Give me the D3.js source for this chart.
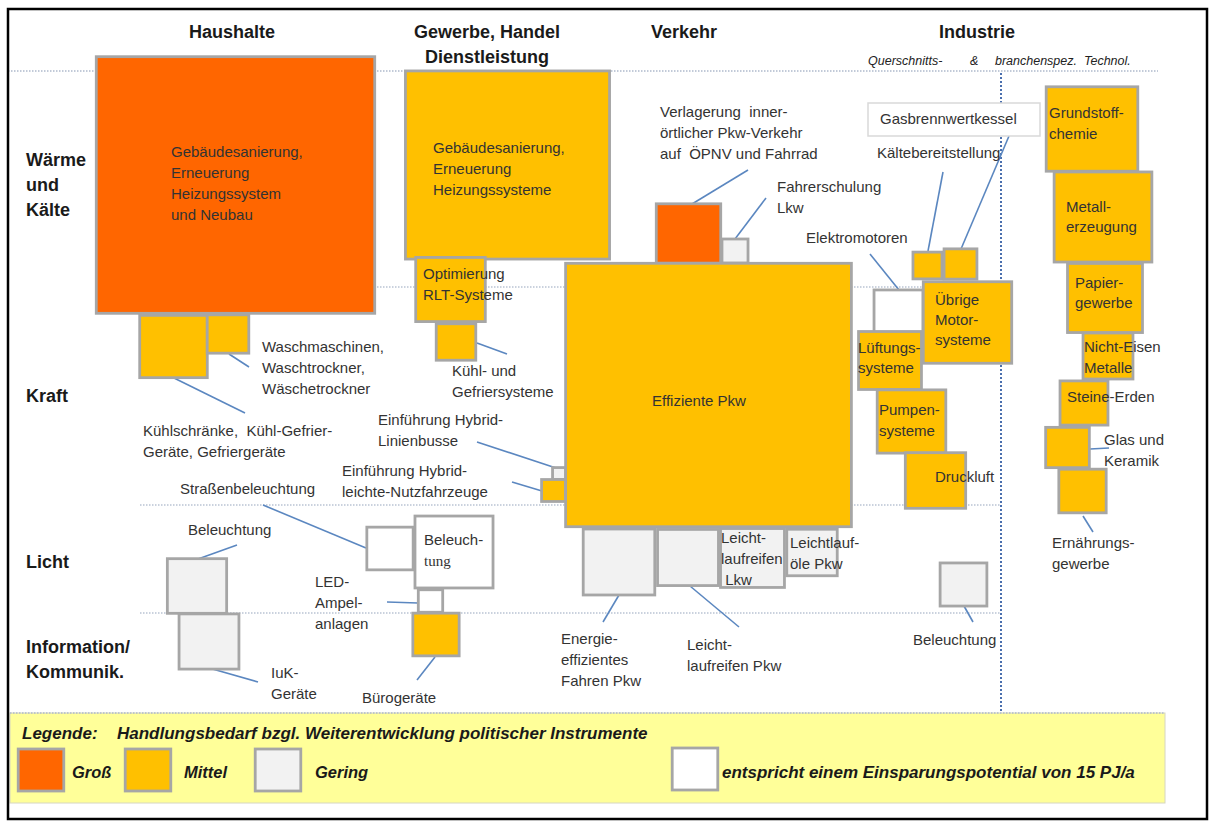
<!DOCTYPE html>
<html>
<head>
<meta charset="utf-8">
<script src="https://cdn.jsdelivr.net/npm/d3@7"></script>
<style>
  body { margin: 0; background: #fff; }
  svg { display: block; font-family: "Liberation Sans", Arial, sans-serif; }
</style>
</head>
<body>
<div id="chart"></div>
<script>
// Sectors (column heads) and uses (row heads)
const sectors = [
    { lines: ["Haushalte"], at: [232, 38] },
    { lines: ["Gewerbe, Handel", "Dienstleistung"], at: [487, 38] },
    { lines: ["Verkehr"], at: [684, 38] },
    { lines: ["Industrie"], at: [977, 38] }
];
const uses = [
    { lines: ["Wärme", "und", "Kälte"], at: [26, 166] },
    { lines: ["Kraft"], at: [26, 402] },
    { lines: ["Licht"], at: [26, 568] },
    { lines: ["Information/", "Kommunik."], at: [26, 653] }
];
const rowBreaks = [287, 505, 613];

// Need for action (Handlungsbedarf) categories
const levels = ["Groß", "Mittel", "Gering", "ohne"];
const levelColors = ["#FF6600", "#FFC000", "#F2F2F2", "#FFFFFF"];

// Reference square of the legend (PJ/a)
const refPJ = 15;

// Measures: saving potential in PJ/a, read from square areas
const measures = [
    { lines: ["Gebäudesanierung,", "Erneuerung", "Heizungssystem", "und Neubau"], level: "Groß", pj: 560, at: [235.5, 185], text: [171, 157] },
    { lines: ["Gebäudesanierung,", "Erneuerung", "Heizungssysteme"], level: "Mittel", pj: 301, at: [507.5, 165], text: [433, 153] },
    { lines: ["Optimierung", "RLT-Systeme"], level: "Mittel", pj: 35, at: [450.5, 289.5], text: [423, 279] },
    { lines: ["Kühl- und", "Gefriersysteme"], level: "Mittel", pj: 11.3, at: [456, 342], text: [452, 376], leader: [477, 343, 507, 354] },
    { lines: ["Verlagerung  inner-", "örtlicher Pkw-Verkehr", "auf  ÖPNV und Fahrrad"], level: "Groß", pj: 30, at: [688.5, 233.5], text: [660, 117], leader: [692, 204, 748, 170] },
    { lines: ["Fahrerschulung", "Lkw"], level: "Gering", pj: 4.9, at: [735, 251], text: [777, 192], leader: [735, 239, 766, 198] },
    { lines: ["Effiziente Pkw"], level: "Mittel", pj: 590, at: [708.5, 395], text: [652, 406] },
    { lines: ["Einführung Hybrid-", "Linienbusse"], level: "Gering", pj: 1.2, at: [559, 473.5], text: [378, 425], leader: [477, 442, 556, 468] },
    { lines: ["Einführung Hybrid-", "leichte-Nutzfahrzeuge"], level: "Mittel", pj: 4.1, at: [553.5, 490.5], text: [342, 476], leader: [512, 482, 542, 491] },
    { lines: ["Kühlschränke,  Kühl-Gefrier-", "Geräte, Gefriergeräte"], level: "Mittel", pj: 33, at: [173.5, 346.5], text: [143, 436], leader: [174, 378, 245, 413] },
    { lines: ["Waschmaschinen,", "Waschtrockner,", "Wäschetrockner"], level: "Mittel", pj: 12.5, at: [228, 334], text: [262, 352], leader: [229, 354, 249, 367] },
    { lines: ["Beleuchtung"], level: "Gering", pj: 25.4, at: [197, 586], text: [188, 535], leader: [198, 559, 237, 545] },
    { lines: ["IuK-", "Geräte"], level: "Gering", pj: 25.9, at: [209, 641.5], text: [271, 678], leader: [209, 668, 258, 682] },
    { lines: ["Straßenbeleuchtung"], level: "ohne", pj: 15.5, at: [390, 548.5], text: [180, 494], leader: [263, 505, 366, 548] },
    { lines: ["Beleuch-", "tung"], level: "ohne", pj: 44, at: [454, 552], text: [424, 545], serifLast: true },
    { lines: ["LED-", "Ampel-", "anlagen"], level: "ohne", pj: 4.3, at: [430.5, 601], text: [315, 587], leader: [387, 602, 418, 603] },
    { lines: ["Bürogeräte"], level: "Mittel", pj: 15.5, at: [436, 634.5], text: [362, 703], leader: [435, 657, 417, 680] },
    { lines: ["Energie-", "effizientes", "Fahren Pkw"], level: "Gering", pj: 37, at: [619, 562], text: [561, 644], leader: [619, 595, 603, 622] },
    { lines: ["Leicht-", "laufreifen Pkw"], level: "Gering", pj: 26.8, at: [688, 557.5], text: [687, 650], leader: [690, 586, 739, 627] },
    { lines: ["Leicht-", "laufreifen", " Lkw"], level: "Gering", pj: 29.5, at: [752.5, 558], text: [721, 543] },
    { lines: ["Leichtlauf-", "öle Pkw"], level: "Gering", pj: 18.4, at: [812, 552.5], text: [790, 548] },
    { lines: ["Beleuchtung"], level: "Gering", pj: 15.8, at: [963.5, 584.5], text: [913, 645], leader: [964, 606, 973, 622] },
    { lines: ["Kältebereitstellung"], level: "Mittel", pj: 6.1, at: [927.5, 265.5], text: [877, 158], leader: [943, 172, 928, 251] },
    { lines: ["Gasbrennwertkessel"], level: "Mittel", pj: 7.8, at: [960.5, 264], text: [880, 124], leader: [1009, 136, 961, 249], boxed: [868, 103, 1040, 136] },
    { lines: ["Elektromotoren"], level: "ohne", pj: 17.3, at: [898.5, 312.5], text: [806, 243], leader: [870, 254, 899, 290] },
    { lines: ["Übrige", "Motor-", "systeme"], level: "Mittel", pj: 56.5, at: [967.5, 322.5], text: [935, 305], gap: 20 },
    { lines: ["Lüftungs-", "systeme"], level: "Mittel", pj: 28.6, at: [890, 360.5], text: [858, 353], gap: 20 },
    { lines: ["Pumpen-", "systeme"], level: "Mittel", pj: 34, at: [911.5, 421.5], text: [879, 415] },
    { lines: ["Druckluft"], level: "Mittel", pj: 26.3, at: [935.5, 480.5], text: [935, 482] },
    { lines: ["Grundstoff-", "chemie"], level: "Mittel", pj: 60.6, at: [1092, 129], text: [1049, 118] },
    { lines: ["Metall-", "erzeugung"], level: "Mittel", pj: 69, at: [1103, 217], text: [1066, 212], gap: 20 },
    { lines: ["Papier-", "gewerbe"], level: "Mittel", pj: 40.6, at: [1105, 298], text: [1075, 288], gap: 20 },
    { lines: ["Nicht-Eisen", "Metalle"], level: "Mittel", pj: 18, at: [1108, 356], text: [1084, 352] },
    { lines: ["Steine-Erden"], level: "Mittel", pj: 16.6, at: [1084, 403], text: [1067, 402] },
    { lines: ["Glas und", "Keramik"], level: "Mittel", pj: 13.8, at: [1067.5, 447.5], text: [1104, 445], leader: [1090, 449, 1109, 448] },
    { lines: ["Ernährungs-", "gewerbe"], level: "Mittel", pj: 16.2, at: [1082.5, 491], text: [1052, 548], leader: [1083, 516, 1093, 532] }
];

// Legend texts
const legendTitle = ["Legende:", "Handlungsbedarf bzgl. Weiterentwicklung politischer Instrumente"];
const legendRef = "entspricht einem Einsparungspotential von 15 PJ/a";

const width = 1215, height = 821;

// layout units -> pixels
const x = d3.scaleLinear().domain([0, 1215]).range([0, width]);
const y = d3.scaleLinear().domain([0, 821]).range([0, height]);
// square size from potential (area proportional), image is stretched slightly in x
const side = d3.scaleSqrt().domain([0, refPJ]).range([0, 42]);
const stretch = 1.085;
const color = d3.scaleOrdinal().domain(levels).range(levelColors);

const svg = d3.select("#chart").append("svg")
    .attr("width", width)
    .attr("height", height);

const plotRight = 1000, topRight = 1158, plotLeft = 140, legendRight = 1165;

// Grid lines
svg.append("line")
    .attr("x1", x(8)).attr("x2", x(topRight))
    .attr("y1", y(71)).attr("y2", y(71))
    .attr("stroke", "#AEB9CC").attr("stroke-width", 1.6).attr("stroke-dasharray", "1.5,1.5");

svg.selectAll("line.row")
    .data(rowBreaks)
    .enter().append("line")
    .attr("class", "row")
    .attr("x1", x(plotLeft)).attr("x2", x(plotRight))
    .attr("y1", d => y(d)).attr("y2", d => y(d))
    .attr("stroke", "#B9C3D3").attr("stroke-width", 1.5).attr("stroke-dasharray", "1.5,1.5");

svg.append("line")
    .attr("x1", x(1001)).attr("x2", x(1001))
    .attr("y1", y(73)).attr("y2", y(713))
    .attr("stroke", "#4A6FAE").attr("stroke-width", 2).attr("stroke-dasharray", "2,2");

// Legend background
svg.append("rect")
    .attr("x", x(10)).attr("y", y(713))
    .attr("width", x(legendRight) - x(10)).attr("height", y(803) - y(713))
    .attr("fill", "#FFFF99").attr("stroke", "#D6D6C0").attr("stroke-width", 1);

svg.append("line")
    .attr("x1", x(10)).attr("x2", x(legendRight))
    .attr("y1", y(713)).attr("y2", y(713))
    .attr("stroke", "#AEB9CC").attr("stroke-width", 1.5).attr("stroke-dasharray", "1.5,1.5");

// Headers
const multiText = (sel, lines, gap) => {
    lines.forEach((t, i) => sel.append("tspan").attr("x", sel.attr("x")).attr("dy", i === 0 ? 0 : gap).text(t));
};

sectors.forEach(s => {
    const t = svg.append("text")
        .attr("x", x(s.at[0])).attr("y", y(s.at[1]))
        .attr("text-anchor", "middle")
        .attr("font-size", 18).attr("font-weight", "bold").attr("fill", "#1a1a1a");
    multiText(t, s.lines, 25);
});

const sub = svg.append("g").attr("font-size", 12.5).attr("font-style", "italic").attr("fill", "#222");
sub.append("text").attr("x", x(868)).attr("y", y(65)).text("Querschnitts-");
sub.append("text").attr("x", x(970)).attr("y", y(65)).text("&");
sub.append("text").attr("x", x(995)).attr("y", y(65)).attr("xml:space", "preserve").text("branchenspez.  Technol.");

uses.forEach(u => {
    const t = svg.append("text")
        .attr("x", x(u.at[0])).attr("y", y(u.at[1]))
        .attr("font-size", 18).attr("font-weight", "bold").attr("fill", "#1a1a1a");
    multiText(t, u.lines, 25);
});

// Leader lines
svg.append("g").selectAll("line")
    .data(measures.filter(d => d.leader))
    .enter().append("line")
    .attr("x1", d => x(d.leader[0])).attr("y1", d => y(d.leader[1]))
    .attr("x2", d => x(d.leader[2])).attr("y2", d => y(d.leader[3]))
    .attr("stroke", "#5B87C0").attr("stroke-width", 1.6);

// Boxed label
svg.append("g").selectAll("rect")
    .data(measures.filter(d => d.boxed))
    .enter().append("rect")
    .attr("x", d => x(d.boxed[0])).attr("y", d => y(d.boxed[1]))
    .attr("width", d => x(d.boxed[2]) - x(d.boxed[0])).attr("height", d => y(d.boxed[3]) - y(d.boxed[1]))
    .attr("fill", "#fff").attr("stroke", "#D9D9D9").attr("stroke-width", 1.5);

// Squares
svg.append("g").selectAll("rect")
    .data(measures)
    .enter().append("rect")
    .attr("x", d => x(d.at[0]) - side(d.pj) * stretch / 2)
    .attr("y", d => y(d.at[1]) - side(d.pj) / 2)
    .attr("width", d => side(d.pj) * stretch)
    .attr("height", d => side(d.pj))
    .attr("fill", d => color(d.level))
    .attr("stroke", "#A6A6A6")
    .attr("stroke-width", 2.8);

// Labels
measures.forEach(d => {
    const t = svg.append("text")
        .attr("x", x(d.text[0])).attr("y", y(d.text[1]))
        .attr("font-size", 15).attr("fill", "#333")
        .attr("xml:space", "preserve");
    d.lines.forEach((line, i) => {
        const ts = t.append("tspan").attr("x", x(d.text[0])).attr("dy", i === 0 ? 0 : (d.gap || 21)).text(line);
        if (d.serifLast && i === d.lines.length - 1) ts.attr("font-family", "Liberation Serif, serif");
    });
});

// Legend
const lg = svg.append("g").attr("font-weight", "bold").attr("font-style", "italic").attr("fill", "#1a1a1a").attr("font-size", 17);
lg.append("text").attr("x", x(22)).attr("y", y(739)).text(legendTitle[0]);
lg.append("text").attr("x", x(117)).attr("y", y(739)).text(legendTitle[1]);

const legendItems = levels.slice(0, 3).map((l, i) => ({ level: l, at: [41, 148, 278][i], label: [72, 184, 315][i] }));
lg.selectAll("rect.key")
    .data(legendItems)
    .enter().append("rect")
    .attr("class", "key")
    .attr("x", d => x(d.at) - side(refPJ) * stretch / 2)
    .attr("y", y(770) - side(refPJ) / 2)
    .attr("width", side(refPJ) * stretch)
    .attr("height", side(refPJ))
    .attr("fill", d => color(d.level))
    .attr("stroke", "#A6A6A6").attr("stroke-width", 2.8);
lg.selectAll("text.key")
    .data(legendItems)
    .enter().append("text")
    .attr("class", "key")
    .attr("x", d => x(d.label)).attr("y", y(778))
    .attr("font-size", 16.5)
    .text(d => d.level);

lg.append("rect")
    .attr("x", x(695) - side(refPJ) * stretch / 2)
    .attr("y", y(769) - side(refPJ) / 2)
    .attr("width", side(refPJ) * stretch)
    .attr("height", side(refPJ))
    .attr("fill", "#fff").attr("stroke", "#A6A6A6").attr("stroke-width", 2.8);
lg.append("text").attr("x", x(722)).attr("y", y(778)).text(legendRef);

// Outer frame
svg.append("rect")
    .attr("x", x(8)).attr("y", y(9))
    .attr("width", x(1207) - x(8)).attr("height", y(819) - y(9))
    .attr("fill", "none").attr("stroke", "#000").attr("stroke-width", 2.5);
</script>
</body>
</html>
